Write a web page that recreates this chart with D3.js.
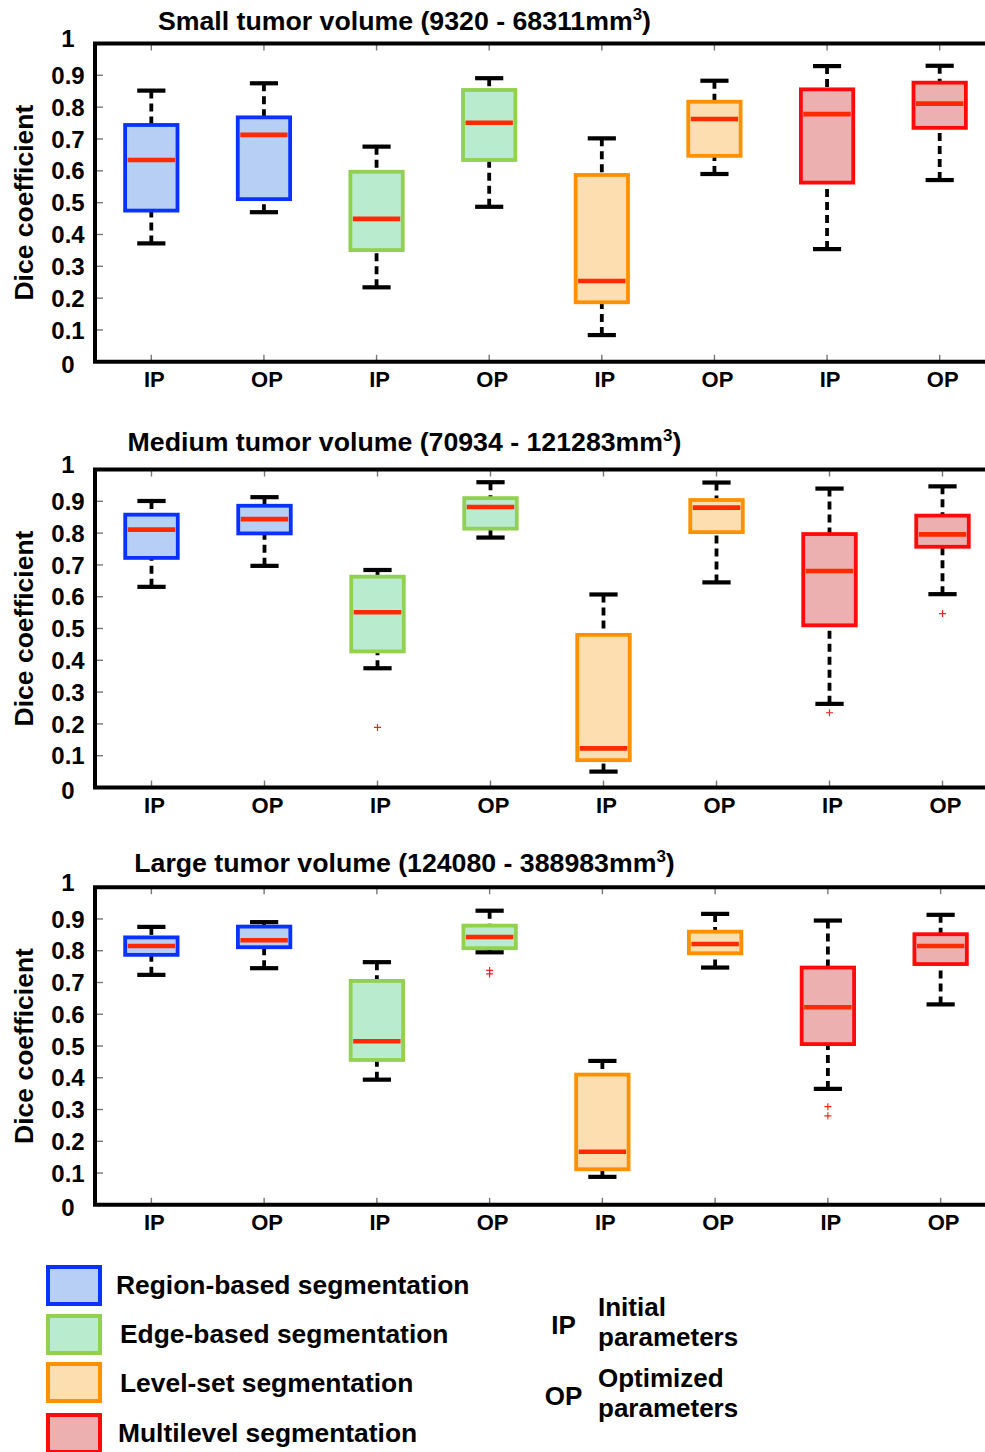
<!DOCTYPE html>
<html>
<head>
<meta charset="utf-8">
<script src="https://cdn.jsdelivr.net/npm/d3@7"></script>
<style>
  html, body { margin: 0; padding: 0; background: #fff; }
  svg { display: block; font-family: "Liberation Sans", Arial, Helvetica, sans-serif; font-weight: bold; }
</style>
</head>
<body>
<svg id="chart" width="985" height="1452"></svg>
<script>
// Parameter setting under each box: IP = initial, OP = optimized
const tickLabels = ["IP", "OP", "IP", "OP", "IP", "OP", "IP", "OP"];
// Segmentation method of each pair of boxes
const methods = ["Region-based segmentation", "Edge-based segmentation", "Level-set segmentation", "Multilevel segmentation"];
const boxMethod = [0, 0, 1, 1, 2, 2, 3, 3];
const panelNames = ["Small tumor volume", "Medium tumor volume", "Large tumor volume"];
const volumeRanges = [["9320", "68311"], ["70934", "121283"], ["124080", "388983"]];
const yTicks = [0, 0.1, 0.2, 0.3, 0.4, 0.5, 0.6, 0.7, 0.8, 0.9, 1];

// Dice coefficient summaries per box: [lower whisker, Q1, median, Q3, upper whisker]
const smallStats = [
  [0.372, 0.475, 0.634, 0.744, 0.852],
  [0.470, 0.511, 0.713, 0.768, 0.875],
  [0.234, 0.351, 0.449, 0.597, 0.676],
  [0.487, 0.634, 0.751, 0.854, 0.891],
  [0.084, 0.187, 0.254, 0.587, 0.702],
  [0.590, 0.647, 0.763, 0.817, 0.883],
  [0.354, 0.563, 0.778, 0.856, 0.929],
  [0.571, 0.735, 0.811, 0.877, 0.930]
];
const mediumStats = [
  [0.631, 0.722, 0.811, 0.858, 0.901],
  [0.697, 0.799, 0.844, 0.886, 0.913],
  [0.375, 0.428, 0.551, 0.663, 0.684],
  [0.786, 0.814, 0.882, 0.910, 0.960],
  [0.050, 0.086, 0.123, 0.480, 0.607],
  [0.645, 0.803, 0.880, 0.904, 0.959],
  [0.263, 0.510, 0.681, 0.797, 0.940],
  [0.608, 0.757, 0.796, 0.855, 0.947]
];
const largeStats = [
  [0.724, 0.787, 0.815, 0.842, 0.875],
  [0.745, 0.811, 0.833, 0.876, 0.890],
  [0.394, 0.456, 0.515, 0.705, 0.764],
  [0.795, 0.808, 0.843, 0.879, 0.926],
  [0.088, 0.112, 0.167, 0.410, 0.453],
  [0.747, 0.792, 0.821, 0.860, 0.916],
  [0.365, 0.506, 0.622, 0.747, 0.895],
  [0.631, 0.758, 0.815, 0.852, 0.913]
];

// Outlying values per box
const smallOutliers = [[], [], [], [], [], [], [], []];
const mediumOutliers = [[], [], [0.189], [], [], [], [0.235], [0.547]];
const largeOutliers = [[], [], [], [0.738, 0.727], [], [], [0.309, 0.280], []];

const strokeColors = ["#0a32ff", "#92d050", "#ff9100", "#ff0a0a"];
const fillColors = ["#b8cff5", "#b9ebcf", "#fddeb0", "#edb0b1"];
const medianColor = "#ff2a00";

const panels = [
  { stats: smallStats, outliers: smallOutliers, top: 43.5, bottom: 361.8, right: 996, titleY: 29.5 },
  { stats: mediumStats, outliers: mediumOutliers, top: 469.5, bottom: 787.5, right: 999, titleY: 450.7 },
  { stats: largeStats, outliers: largeOutliers, top: 887.2, bottom: 1204.8, right: 997, titleY: 872.3 }
];

const svg = d3.select("#chart");
const left = 95;

panels.forEach((p, pi) => {
  const g = svg.append("g");
  const x = d3.scaleBand().domain(d3.range(tickLabels.length)).range([left, p.right]).padding(0);
  const y = d3.scaleLinear().domain([0, 1]).range([p.bottom, p.top]);
  const bw = x.bandwidth();
  const boxW = bw * 0.465;
  const capW = bw * 0.25;

  // Title with superscript unit
  const title = g.append("text")
    .attr("x", 404.5).attr("y", p.titleY)
    .attr("text-anchor", "middle")
    .attr("font-size", 26.7);
  title.append("tspan").text(`${panelNames[pi]} (${volumeRanges[pi][0]} - ${volumeRanges[pi][1]}mm`);
  title.append("tspan").attr("font-size", 17).attr("dy", -10).text("3");
  title.append("tspan").attr("dy", 10).text(")");

  // Y axis label
  g.append("text")
    .attr("transform", `translate(33,${(p.top + p.bottom) / 2}) rotate(-90)`)
    .attr("text-anchor", "middle")
    .attr("font-size", 26.5)
    .text("Dice coefficient");

  // Y tick labels, centred in the left margin
  g.selectAll(".ylab").data(yTicks).join("text")
    .attr("x", 68)
    .attr("y", d => y(d) + (d === 1 ? -5 : d === 0 ? 3 : 0))
    .attr("dy", "0.36em")
    .attr("text-anchor", "middle")
    .attr("font-size", 24)
    .text(d => d3.format("")(d));

  // Inner tick marks
  g.selectAll(".ytick").data(yTicks.filter(d => d > 0 && d < 1)).join("line")
    .attr("x1", left).attr("x2", left + 8)
    .attr("y1", d => y(d)).attr("y2", d => y(d))
    .attr("stroke", "#777").attr("stroke-width", 1.4);
  const cx = i => x(i) + bw / 2;
  g.selectAll(".xtickTop").data(tickLabels).join("line")
    .attr("x1", (d, i) => cx(i)).attr("x2", (d, i) => cx(i))
    .attr("y1", p.top).attr("y2", p.top + 7)
    .attr("stroke", "#777").attr("stroke-width", 1.4);
  g.selectAll(".xtickBot").data(tickLabels).join("line")
    .attr("x1", (d, i) => cx(i)).attr("x2", (d, i) => cx(i))
    .attr("y1", p.bottom).attr("y2", p.bottom - 7)
    .attr("stroke", "#777").attr("stroke-width", 1.4);

  // X tick labels
  g.selectAll(".xlab").data(tickLabels).join("text")
    .attr("x", (d, i) => cx(i) + 3)
    .attr("y", p.bottom + 25.5)
    .attr("text-anchor", "middle")
    .attr("font-size", 22)
    .text(d => d);

  // Boxes
  const box = g.selectAll(".box").data(p.stats).join("g");
  // whiskers
  box.append("line")
    .attr("x1", (d, i) => cx(i)).attr("x2", (d, i) => cx(i))
    .attr("y1", d => y(d[4])).attr("y2", d => y(d[3]))
    .attr("stroke", "#000").attr("stroke-width", 3.8).attr("stroke-dasharray", "8,5");
  box.append("line")
    .attr("x1", (d, i) => cx(i)).attr("x2", (d, i) => cx(i))
    .attr("y1", d => y(d[0])).attr("y2", d => y(d[1]))
    .attr("stroke", "#000").attr("stroke-width", 3.8).attr("stroke-dasharray", "8,5");
  // caps
  [0, 4].forEach(k => {
    box.append("line")
      .attr("x1", (d, i) => cx(i) - capW / 2).attr("x2", (d, i) => cx(i) + capW / 2)
      .attr("y1", d => y(d[k])).attr("y2", d => y(d[k]))
      .attr("stroke", "#000").attr("stroke-width", 4.2);
  });
  // box body
  box.append("rect")
    .attr("x", (d, i) => cx(i) - boxW / 2)
    .attr("width", boxW)
    .attr("y", d => y(d[3]))
    .attr("height", d => y(d[1]) - y(d[3]))
    .attr("fill", (d, i) => fillColors[boxMethod[i]])
    .attr("stroke", (d, i) => strokeColors[boxMethod[i]])
    .attr("stroke-width", 3.8);
  // median
  box.append("line")
    .attr("x1", (d, i) => cx(i) - boxW / 2 + 2.5).attr("x2", (d, i) => cx(i) + boxW / 2 - 2.5)
    .attr("y1", d => y(d[2])).attr("y2", d => y(d[2]))
    .attr("stroke", medianColor).attr("stroke-width", 4.6);

  // Outliers as small plus signs
  const pts = [];
  p.outliers.forEach((arr, i) => arr.forEach(v => pts.push({ i, v })));
  g.selectAll(".out").data(pts).join("path")
    .attr("d", d => {
      const px = cx(d.i), py = y(d.v), r = 3.5;
      return `M${px - r},${py}H${px + r}M${px},${py - r}V${py + r}`;
    })
    .attr("stroke", "#ff2020").attr("stroke-width", 1.2).attr("fill", "none");

  // Frame: left, top and bottom edges
  g.append("path")
    .attr("d", `M${p.right},${p.top}H${left}V${p.bottom}H${p.right}`)
    .attr("fill", "none").attr("stroke", "#000").attr("stroke-width", 4)
    .attr("stroke-linejoin", "miter");
});

// Legend: segmentation methods
const legendBoxY = [1267, 1316, 1364, 1415];
const legendTextX = [116, 120, 120, 118];
const legendTextY = [1294, 1343, 1391.5, 1441.5];
const lg = svg.append("g");
lg.selectAll("rect").data(methods).join("rect")
  .attr("x", 48).attr("y", (d, i) => legendBoxY[i])
  .attr("width", 52).attr("height", 37)
  .attr("fill", (d, i) => fillColors[i])
  .attr("stroke", (d, i) => strokeColors[i])
  .attr("stroke-width", 4);
lg.selectAll("text").data(methods).join("text")
  .attr("x", (d, i) => legendTextX[i]).attr("y", (d, i) => legendTextY[i])
  .attr("font-size", 26.4)
  .text(d => d);

// Legend: parameter abbreviations
const abbrevs = ["IP", "OP"];
const abbrevText = [["Initial", "parameters"], ["Optimized", "parameters"]];
const abbrevY = [1334, 1405];
const ag = svg.append("g").attr("font-size", 26);
abbrevs.forEach((a, i) => {
  ag.append("text").attr("x", 563.5).attr("y", abbrevY[i]).attr("text-anchor", "middle").text(a);
  ag.append("text").attr("x", 598).attr("y", abbrevY[i] - 18).text(abbrevText[i][0]);
  ag.append("text").attr("x", 598).attr("y", abbrevY[i] + 12).text(abbrevText[i][1]);
});
</script>
</body>
</html>
